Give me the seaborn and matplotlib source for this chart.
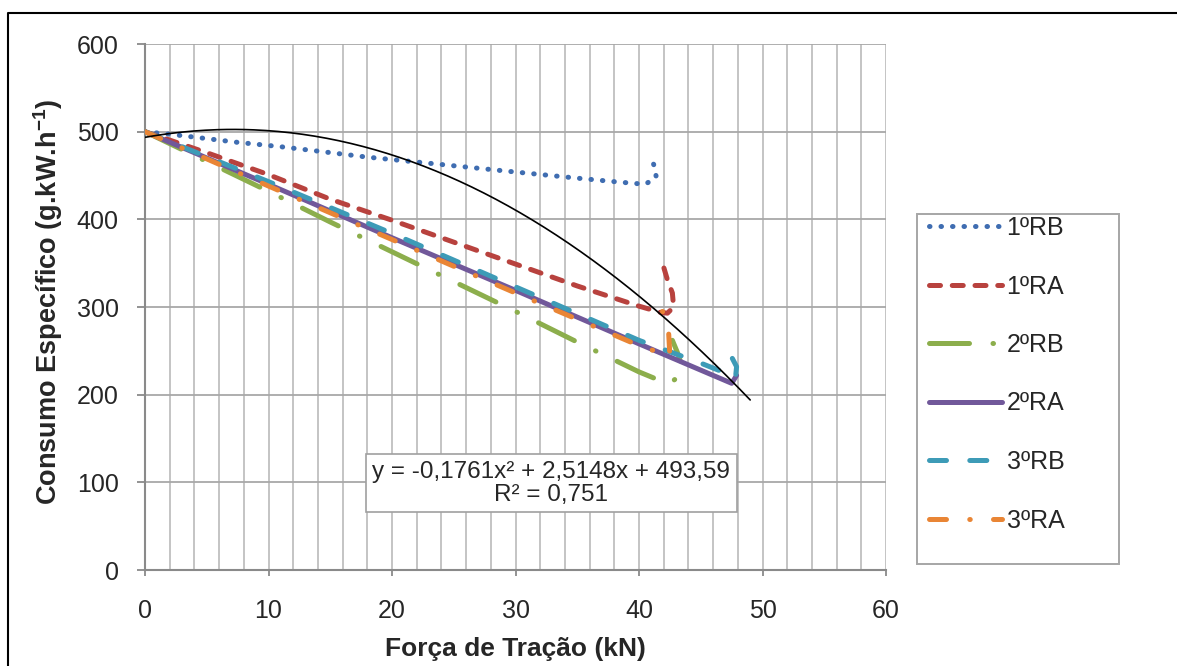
import matplotlib
matplotlib.use("Agg")
import matplotlib.pyplot as plt
import seaborn as sns
from matplotlib.ticker import MultipleLocator
from matplotlib.patches import Rectangle
from matplotlib.lines import Line2D

# ---- data: traction force (kN) vs specific consumption (g/kWh) ----
forca_1rb = [0, 2.7, 7.4, 10.9, 13.9, 18, 23, 30, 35, 38, 40.5, 41.4, 41.2, 40.9]
cons_1rb = [500, 496, 488, 483, 478, 471, 464, 454, 447, 443, 440, 448, 462, 474]

forca_1ra = [0, 5, 10, 15, 20, 25, 30, 35, 40, 41.7, 42.3, 42.8, 42.7, 42.3, 41.9]
cons_1ra = [500, 476, 451, 423, 399, 374, 349, 324, 301, 294, 293, 300, 316, 331, 350]

forca_2rb = [0, 5, 10, 15, 20, 25, 30, 35, 40, 42.4, 43.6, 43.2, 42.7]
cons_2rb = [500, 466, 432, 397, 363, 329, 295, 260, 226, 212, 225, 245, 262]

forca_2ra = [0, 10, 20, 30, 40, 45, 47.5, 47.9]
cons_2ra = [500, 440, 379, 319, 258, 228, 213, 222]

forca_3rb = [0, 10, 20, 30, 40, 45, 46.6, 47.8, 47.9, 47.2]
cons_3rb = [500, 443, 384, 323, 262, 236, 227, 218, 232, 251]

forca_3ra = [0, 10, 20, 30, 40, 42.5, 42.4, 41.9]
cons_3ra = [500, 438, 377, 316, 256, 244, 270, 295]

series_names = ["1ºRB", "1ºRA", "2ºRB", "2ºRA", "3ºRB", "3ºRA"]

# quadratic trend line coefficients
coef_a, coef_b, coef_c = -0.1761, 2.5148, 493.59
r2_value = 0.751
trend_x_max = 49

x_ticks = [0, 10, 20, 30, 40, 50, 60]
y_ticks = [0, 100, 200, 300, 400, 500, 600]

# ---- styling ----
sns.set_style("white")
plt.rcParams["font.family"] = ["Liberation Sans", "DejaVu Sans"]
plt.rcParams["mathtext.fontset"] = "custom"
plt.rcParams["mathtext.rm"] = "Liberation Sans"
plt.rcParams["mathtext.bf"] = "Liberation Sans:bold"

colors = ["#3f6db1", "#b8423e", "#8cae4c", "#71589a", "#3d9bb7", "#e98535"]
styles = [
    (0, (0.1, 2.2)),
    (0, (2.2, 2.35)),
    (0, (8.0, 4.7, 0.1, 4.7)),
    "-",
    (0, (3.4, 4.66)),
    (0, (3.4, 4.65, 0.1, 4.65)),
]
LW = 3.6

fig = plt.figure(figsize=(11.77, 6.66), dpi=100)
ax = fig.add_axes([0.1232, 0.1441, 0.6296, 0.7898])

xs = [forca_1rb, forca_1ra, forca_2rb, forca_2ra, forca_3rb, forca_3ra]
ys = [cons_1rb, cons_1ra, cons_2rb, cons_2ra, cons_3rb, cons_3ra]

for fx, cy, name, col, ls in zip(xs, ys, series_names, colors, styles):
    sns.lineplot(x=fx, y=cy, ax=ax, color=col, linewidth=LW, linestyle=ls,
                 dash_capstyle="round", solid_capstyle="round",
                 sort=False, estimator=None, label=name, zorder=3)

# trend line
tx = [i * trend_x_max / 200 for i in range(201)]
ty = [coef_a * t ** 2 + coef_b * t + coef_c for t in tx]
sns.lineplot(x=tx, y=ty, ax=ax, color="black", linewidth=1.2,
             sort=False, estimator=None, zorder=4)

ax.set_xlim(0, 60)
ax.set_ylim(0, 600)
ax.set_xticks(x_ticks)
ax.set_yticks(y_ticks)
ax.xaxis.set_minor_locator(MultipleLocator(2))
ax.grid(True, which="both", axis="x", color="#b4b4b4", linewidth=1.1)
ax.grid(True, which="major", axis="y", color="#a8a8a8", linewidth=1.3)
ax.set_axisbelow(True)

for s in ["top", "right"]:
    ax.spines[s].set_visible(False)
for s in ["left", "bottom"]:
    ax.spines[s].set_color("#8a8a8a")
    ax.spines[s].set_linewidth(1.5)
    ax.spines[s].set_zorder(2)

ax.tick_params(axis="y", which="major", direction="out", length=6, width=1.3,
               color="#8a8a8a", pad=13, labelsize=18, left=True)
ax.tick_params(axis="x", which="major", direction="out", length=4, width=1.3,
               color="#8a8a8a", pad=17, labelsize=18, bottom=True)
ax.tick_params(axis="x", which="minor", length=0)

ax.set_xlabel("Força de Tração (kN)", fontsize=19, fontweight="bold")
ax.set_ylabel(r"Consumo Específico (g.kW.h$^{\mathbf{-1}}$)", fontsize=19.5,
              fontweight="bold")
ax.xaxis.set_label_coords(0.5, -0.127)
ax.yaxis.set_label_coords(-0.108, 0.51)

# equation box
ax.text(32.9, 99,
        f"y = {coef_a:.4f}x² + {coef_b:.4f}x + {coef_c:.2f}".replace(".", ",")
        + "\n" + f"R² = {r2_value:.3f}".replace(".", ","),
        ha="center", va="center", multialignment="center", fontsize=17.5,
        linespacing=1.05, zorder=5,
        bbox=dict(boxstyle="square,pad=0.28", facecolor="white",
                  edgecolor="#a0a0a0", linewidth=1.2))

# legend
handles, labels = ax.get_legend_handles_labels()
leg = ax.legend(handles[:6], labels[:6], loc="upper left",
                bbox_to_anchor=(929 / 1177, 1 - 216 / 666),
                bbox_transform=fig.transFigure, frameon=False, fontsize=18,
                handlelength=2.9, handletextpad=0.2, labelspacing=1.38,
                borderpad=0, borderaxespad=0)
fig.patches.append(Rectangle((917 / 1177, 1 - 564 / 666), 202 / 1177, 350 / 666,
                             transform=fig.transFigure, fill=False,
                             edgecolor="#a6a6a6", linewidth=1.4))

# outer chart border (left and top edges)
fig.lines.append(Line2D([8 / 1177, 8 / 1177, 1.0], [0.0, 1 - 13 / 666, 1 - 13 / 666],
                        transform=fig.transFigure, color="black", linewidth=1.5))

fig.savefig("out.png", dpi=100)
